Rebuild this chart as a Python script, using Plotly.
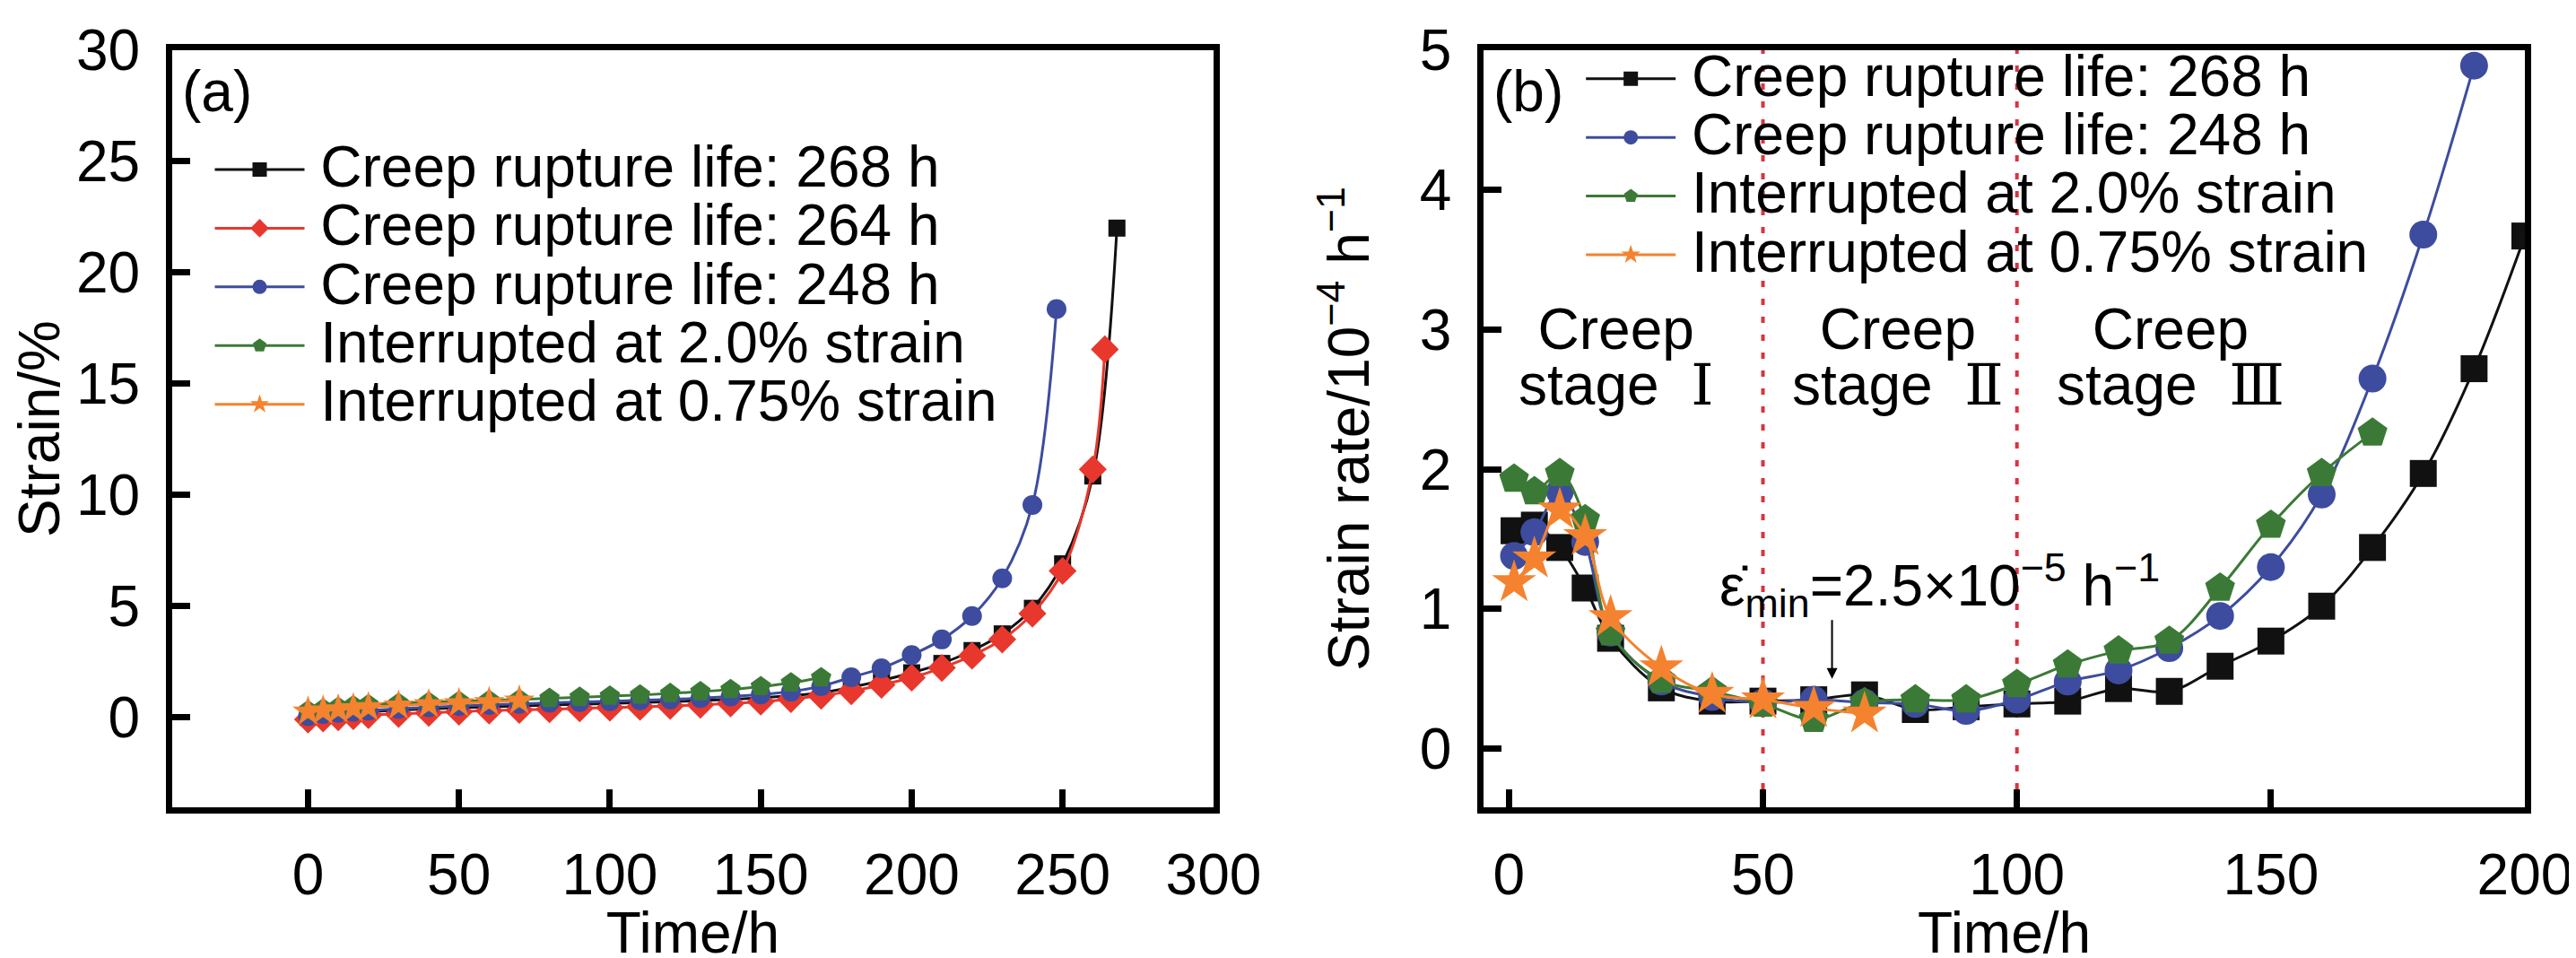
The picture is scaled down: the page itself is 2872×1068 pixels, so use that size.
import plotly.graph_objects as go

FONT = "Liberation Sans, Arial, Helvetica, sans-serif"
FS = 64

# ---------------- Panel (a): strain vs time ----------------
t_a_268 = [0, 5, 10, 15, 20, 30, 40, 50, 60, 70, 80, 90, 100, 110, 120, 130, 140, 150,
           160, 170, 180, 190, 200, 210, 220, 230, 240, 250, 260, 268]
s_a_268 = [0.0, 0.1, 0.15, 0.2, 0.25, 0.32, 0.38, 0.43, 0.47, 0.51, 0.55, 0.58, 0.62, 0.66,
           0.7, 0.75, 0.8, 0.87, 0.97, 1.1, 1.35, 1.65, 2.0, 2.42, 3.0, 3.75, 4.9, 6.9, 10.85, 22.0]

t_a_264 = [0, 5, 10, 15, 20, 30, 40, 50, 60, 70, 80, 90, 100, 110, 120, 130, 140, 150,
           160, 170, 180, 190, 200, 210, 220, 230, 240, 250, 260, 264]
s_a_264 = [-0.1, -0.05, 0.0, 0.05, 0.1, 0.15, 0.2, 0.25, 0.3, 0.33, 0.36, 0.4, 0.43, 0.47,
           0.51, 0.56, 0.62, 0.7, 0.82, 0.97, 1.17, 1.46, 1.78, 2.22, 2.77, 3.5, 4.66, 6.58,
           11.15, 16.55]

t_a_248 = [0, 5, 10, 15, 20, 30, 40, 50, 60, 70, 80, 90, 100, 110, 120, 130, 140, 150,
           160, 170, 180, 190, 200, 210, 220, 230, 240, 248]
s_a_248 = [0.05, 0.15, 0.2, 0.25, 0.3, 0.38, 0.45, 0.5, 0.55, 0.6, 0.65, 0.68, 0.72, 0.76,
           0.8, 0.86, 0.93, 1.02, 1.15, 1.4, 1.8, 2.2, 2.8, 3.5, 4.55, 6.25, 9.55, 18.36]

t_a_i20 = [0, 5, 10, 15, 20, 30, 40, 50, 60, 70, 80, 90, 100, 110, 120, 130, 140, 150, 160, 170]
s_a_i20 = [0.3, 0.38, 0.45, 0.52, 0.57, 0.63, 0.68, 0.72, 0.76, 0.8, 0.85, 0.9, 0.95, 1.0,
           1.07, 1.15, 1.25, 1.38, 1.55, 1.78]

t_a_i075 = [0, 5, 10, 15, 20, 30, 40, 50, 60, 70]
s_a_i075 = [0.25, 0.3, 0.35, 0.4, 0.45, 0.52, 0.58, 0.63, 0.68, 0.75]

# ---------------- Panel (b): strain rate vs time ----------------
t_b_268 = [1, 5, 10, 15, 20, 30, 40, 50, 60, 70, 80, 90, 100, 110, 120, 130, 140, 150,
           160, 170, 180, 190, 200]
r_b_268 = [1.56, 1.6, 1.44, 1.15, 0.79, 0.435, 0.34, 0.34, 0.35, 0.385, 0.28, 0.3, 0.32,
           0.34, 0.43, 0.41, 0.59, 0.77, 1.02, 1.44, 1.97, 2.72, 3.67]

t_b_248 = [1, 5, 10, 15, 20, 30, 40, 50, 60, 70, 80, 90, 100, 110, 120, 130, 140, 150,
           160, 170, 180, 190]
r_b_248 = [1.38, 1.55, 1.84, 1.48, 0.83, 0.48, 0.37, 0.33, 0.35, 0.33, 0.32, 0.27, 0.35,
           0.48, 0.56, 0.72, 0.95, 1.3, 1.82, 2.65, 3.68, 4.89]

t_b_i20 = [1, 5, 10, 15, 20, 30, 40, 50, 60, 70, 80, 90, 100, 110, 120, 130, 140, 150, 160, 170]
r_b_i20 = [1.93, 1.84, 1.97, 1.64, 0.83, 0.49, 0.41, 0.32, 0.21, 0.33, 0.35, 0.35, 0.46,
           0.6, 0.7, 0.77, 1.15, 1.6, 1.97, 2.26]

t_b_i075 = [1, 5, 10, 15, 20, 30, 40, 50, 60, 70]
r_b_i075 = [1.19, 1.36, 1.71, 1.52, 0.94, 0.58, 0.39, 0.35, 0.29, 0.25]

names = ["Creep rupture life: 268 h", "Creep rupture life: 264 h", "Creep rupture life: 248 h",
         "Interrupted at 2.0% strain", "Interrupted at 0.75% strain"]
colors = ["#111111", "#E8372D", "#3D4C9E", "#3B7A36", "#F4822F"]
symbols = ["square", "diamond", "circle", "pentagon", "star"]

x_ticks_a = [0, 50, 100, 150, 200, 250, 300]
y_ticks_a = [0, 5, 10, 15, 20, 25, 30]
x_ticks_b = [0, 50, 100, 150, 200]
y_ticks_b = [0, 1, 2, 3, 4, 5]
stage_bounds = [50, 100]
stage_numerals = ["\u2160", "\u2161", "\u2162"]
stage_x = [21, 76.5, 130.3]
eps_text = "\u03b5\u0307<sub>min</sub>=2.5\u00d710<sup>\u22125</sup> h<sup>\u22121</sup>"


def big(s, size=FS):
    return '<span style="font-size:%dpx">%s</span>' % (size, s)


fig = go.Figure()

panel_a = [(t_a_268, s_a_268, 0, 19), (t_a_264, s_a_264, 1, 24), (t_a_248, s_a_248, 2, 22),
           (t_a_i20, s_a_i20, 3, 24), (t_a_i075, s_a_i075, 4, 26)]
for t, v, i, sz in panel_a:
    fig.add_trace(go.Scatter(
        x=t, y=v, mode="lines+markers", name=big("\u2009" + names[i]),
        line=dict(color=colors[i], width=3, shape="spline", smoothing=1.0),
        marker=dict(symbol=symbols[i], size=sz, color=colors[i], line=dict(width=0)),
        xaxis="x", yaxis="y", legend="legend"))

panel_b = [(t_b_268, r_b_268, 0, 30), (t_b_248, r_b_248, 2, 31),
           (t_b_i20, r_b_i20, 3, 35), (t_b_i075, r_b_i075, 4, 37)]
for t, v, i, sz in panel_b:
    fig.add_trace(go.Scatter(
        x=t, y=v, mode="lines+markers", name=big("\u2009" + names[i]),
        line=dict(color=colors[i], width=3, shape="spline", smoothing=1.0),
        marker=dict(symbol=symbols[i], size=sz, color=colors[i], line=dict(width=0)),
        xaxis="x2", yaxis="y2", legend="legend2"))

axis_common = dict(
    showline=True, linewidth=7, linecolor="black", mirror=True,
    ticks="inside", ticklen=20, tickwidth=7, tickcolor="black",
    showgrid=False, zeroline=False, ticklabeloverflow="allow",
    tickfont=dict(family=FONT, size=FS, color="black"),
)

fig.update_layout(
    width=2872, height=1068,
    margin=dict(l=169, r=55, t=25, b=153),
    paper_bgcolor="white", plot_bgcolor="white",
    font=dict(family=FONT, size=FS, color="black"),
    xaxis=dict(domain=[0, 0.4426], range=[-45, 300], tickvals=x_ticks_a, anchor="y",
               title=dict(text="Time/h", font=dict(size=FS), standoff=8),
               ticklabelstandoff=13, **axis_common),
    yaxis=dict(domain=[0, 1], range=[-4.05, 30.0], tickvals=y_ticks_a, anchor="x",
               title=dict(text="Strain/%", font=dict(size=FS), standoff=20),
               ticklabelstandoff=16, **axis_common),
    xaxis2=dict(domain=[0.5574, 1], range=[-5, 200], tickvals=x_ticks_b, anchor="y2",
                title=dict(text="Time/h", font=dict(size=FS), standoff=8),
                ticklabelstandoff=13, **axis_common),
    yaxis2=dict(domain=[0, 1], range=[-0.42, 5.0], tickvals=y_ticks_b, anchor="x2",
                title=dict(text="Strain rate/10<sup>\u22124</sup> h<sup>\u22121</sup>",
                           font=dict(size=FS), standoff=38),
                ticklabelstandoff=16, **axis_common),
    legend=dict(x=0.0162, y=0.887, xanchor="left", yanchor="top",
                bgcolor="rgba(0,0,0,0)", borderwidth=0, itemwidth=100,
                font=dict(family=FONT, size=48, color="black"), tracegroupgap=0),
    legend2=dict(x=0.599, y=1.007, xanchor="left", yanchor="top",
                 bgcolor="rgba(0,0,0,0)", borderwidth=0, itemwidth=100,
                 font=dict(family=FONT, size=48, color="black"), tracegroupgap=0),
    showlegend=True,
)

for xb in stage_bounds:
    fig.add_shape(type="line", xref="x2", yref="y2 domain", x0=xb, x1=xb, y0=0, y1=1,
                  line=dict(color="#D8343E", width=4, dash="7px,13px"), layer="below")

ann_font = dict(family=FONT, size=FS, color="black")
fig.add_annotation(text="(a)", xref="x domain", yref="y domain", x=0.008, y=0.99,
                   xanchor="left", yanchor="top", showarrow=False, font=ann_font)
fig.add_annotation(text="(b)", xref="x2 domain", yref="y2 domain", x=0.008, y=0.99,
                   xanchor="left", yanchor="top", showarrow=False, font=ann_font)

for num, xs in zip(stage_numerals, stage_x):
    txt = (big("Creep") + "<br>" + big("stage\u00a0\u00a0") +
           "<span style=\"font-size:64px;font-family:'DejaVu Serif'\">%s</span>" % num)
    fig.add_annotation(text=txt, xref="x2", yref="y2", x=xs, y=2.80, showarrow=False,
                       font=dict(family=FONT, size=48, color="black"), align="center",
                       xanchor="center", yanchor="middle")

fig.add_annotation(text=eps_text, xref="x2", yref="y2", x=41, y=1.17, xanchor="left",
                   yanchor="middle", showarrow=False, font=ann_font)
fig.add_annotation(text="", xref="x2", yref="y2", x=63.6, y=0.5, ax=63.6, ay=0.93,
                   axref="x2", ayref="y2", showarrow=True, arrowhead=2, arrowsize=1.2,
                   arrowwidth=2, arrowcolor="black")

fig.write_html("out.html")
